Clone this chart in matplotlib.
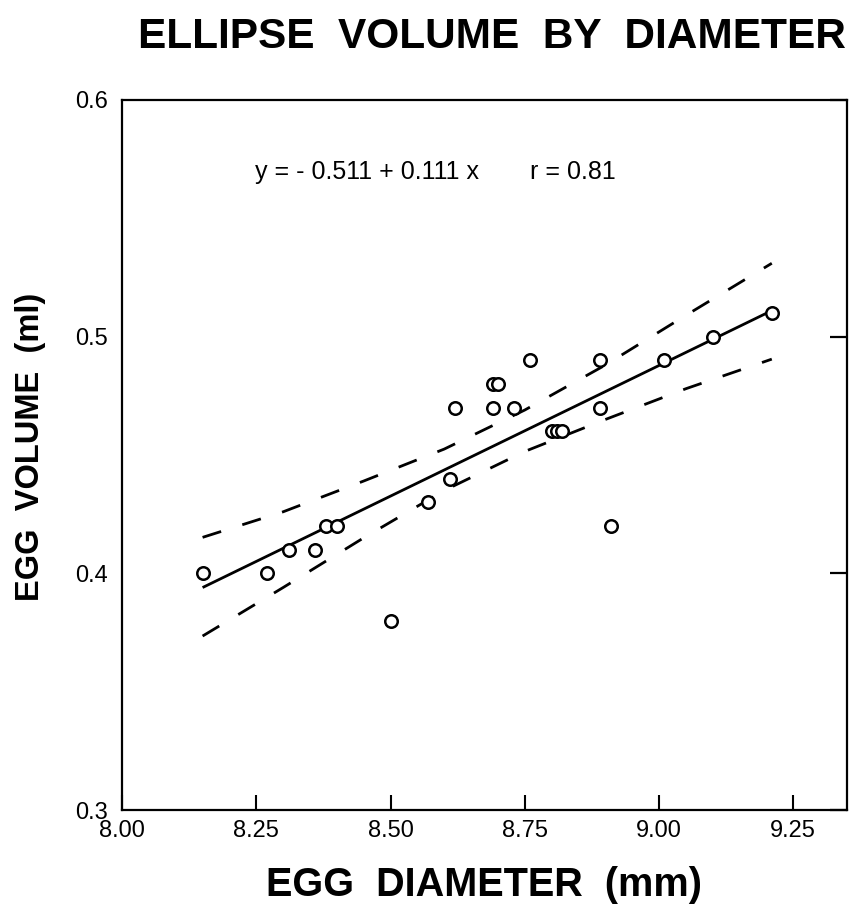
"""Egg volume vs egg diameter scatter with regression line and confidence bands."""
import matplotlib

matplotlib.use("Agg")
import matplotlib.pyplot as plt  # noqa: E402

plt.rcParams["font.family"] = ["Liberation Sans", "DejaVu Sans"]

# 数据
diameter = [8.15, 8.27, 8.31, 8.36, 8.38, 8.40, 8.50, 8.57, 8.61, 8.62,
            8.69, 8.69, 8.70, 8.73, 8.76, 8.80, 8.81, 8.82, 8.89, 8.89,
            8.91, 9.01, 9.10, 9.21]
volume = [0.40, 0.40, 0.41, 0.41, 0.42, 0.42, 0.38, 0.43, 0.44, 0.47,
          0.47, 0.48, 0.48, 0.47, 0.49, 0.46, 0.46, 0.46, 0.49, 0.47,
          0.42, 0.49, 0.50, 0.51]

# 回归线端点
fit_x = [8.15, 9.21]
fit_y = [0.394, 0.511]

# 置信带
band_x = [8.15, 8.30, 8.45, 8.60, 8.75, 8.90, 9.05, 9.21]
band_upper = [0.4152, 0.426, 0.439, 0.4525, 0.469, 0.488, 0.509, 0.531]
band_lower = [0.3735, 0.394, 0.415, 0.435, 0.4515, 0.465, 0.478, 0.4905]

x_ticks = [8.00, 8.25, 8.50, 8.75, 9.00, 9.25]
y_ticks = [0.3, 0.4, 0.5, 0.6]

fig = plt.figure(figsize=(8.57, 9.13), dpi=100)
ax = fig.add_axes([0.1424, 0.1128, 0.8459, 0.7777])

ax.plot(fit_x, fit_y, color="black", lw=2.0, solid_capstyle="butt")
for ys in (band_upper, band_lower):
    (ln,) = ax.plot(band_x, ys, color="black", lw=2.0, dash_capstyle="butt")
    ln.set_dashes((7, 8))
ax.plot(diameter, volume, "o", ms=9, mfc="white", mec="black", mew=1.8,
        zorder=3)

ax.set_xlim(8.0, 9.35)
ax.set_ylim(0.3, 0.6)
ax.set_xticks(x_ticks)
ax.set_xticklabels([f"{v:.2f}" for v in x_ticks])
ax.set_yticks(y_ticks)
ax.set_yticklabels([f"{v:.1f}" for v in y_ticks])

for s in ax.spines.values():
    s.set_linewidth(1.6)
ax.tick_params(axis="x", direction="in", length=11, width=1.5,
               labelsize=17, pad=7, top=False)
ax.tick_params(axis="y", direction="in", length=12, width=1.6,
               labelsize=17, pad=10, left=False, right=True,
               labelleft=True, labelright=False)

ax.text(0.183, 0.898, "y = - 0.511 + 0.111 x", transform=ax.transAxes,
        fontsize=18, ha="left", va="center")
ax.text(0.563, 0.898, "r = 0.81", transform=ax.transAxes,
        fontsize=18, ha="left", va="center")

fig.text(0.574, 0.960, "ELLIPSE  VOLUME  BY  DIAMETER", fontsize=30.5,
         fontweight="bold", ha="center", va="center")
fig.text(0.565, 0.031, "EGG  DIAMETER  (mm)", fontsize=28.5,
         fontweight="bold", ha="center", va="center")
fig.text(0.036, 0.511, "EGG  VOLUME  (ml)", fontsize=23.5, fontweight="bold",
         ha="center", va="center", rotation=90)

fig.savefig("out.png", dpi=100)
